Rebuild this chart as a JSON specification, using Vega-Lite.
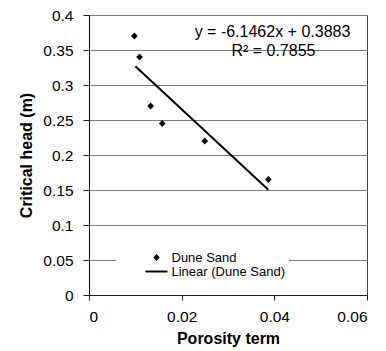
{
  "$schema": "https://vega.github.io/schema/vega-lite/v6.json",
  "width": 278,
  "height": 280,
  "autosize": {"type": "none"},
  "padding": {"left": 89, "top": 15, "right": 19, "bottom": 56},
  "background": "white",
  "config": {
    "font": "Liberation Sans",
    "view": {"stroke": "#444", "strokeWidth": 1},
    "axis": {
      "labelFont": "Liberation Sans",
      "labelFontSize": 15.5,
      "labelColor": "black",
      "titleFont": "Liberation Sans",
      "titleFontSize": 16,
      "titleFontWeight": "bold",
      "titleColor": "black",
      "tickColor": "#222",
      "domainColor": "#222"
    }
  },
  "datasets": {
    "main": [
      {"x": 0.0098, "y": 0.370, "series": "Dune Sand"},
      {"x": 0.0109, "y": 0.340, "series": "Dune Sand"},
      {"x": 0.0133, "y": 0.270, "series": "Dune Sand"},
      {"x": 0.0158, "y": 0.245, "series": "Dune Sand"},
      {"x": 0.0250, "y": 0.220, "series": "Dune Sand"},
      {"x": 0.0387, "y": 0.165, "series": "Dune Sand"},
      {"x": 0.0100, "y": 0.3268, "series": "Linear (Dune Sand)"},
      {"x": 0.0387, "y": 0.1504, "series": "Linear (Dune Sand)"}
    ],
    "notes": [
      {"label": "y = -6.1462x + 0.3883", "row": 1},
      {"label": "R² = 0.7855", "row": 2}
    ]
  },
  "layer": [
    {
      "data": {"name": "main"},
      "transform": [{"filter": "datum.series == 'Linear (Dune Sand)'"}],
      "mark": {"type": "line", "color": "black", "strokeWidth": 2},
      "encoding": {
        "x": {
          "field": "x", "type": "quantitative",
          "scale": {"domain": [0, 0.06], "nice": false, "zero": false},
          "axis": {"title": "Porosity term", "values": [0, 0.02, 0.04, 0.06], "format": ".2~f", "grid": false, "tickSize": 5, "labelPadding": 9, "titlePadding": 6}
        },
        "y": {
          "field": "y", "type": "quantitative",
          "scale": {"domain": [0, 0.4], "nice": false, "zero": false},
          "axis": {"title": "Critical head (m)", "values": [0, 0.05, 0.1, 0.15, 0.2, 0.25, 0.3, 0.35, 0.4], "format": ".2~f", "grid": true, "gridColor": "#7a7a7a", "gridWidth": 1, "tickSize": 6, "labelPadding": 10, "titlePadding": 8, "domainColor": "black"}
        }
      }
    },
    {
      "data": {"name": "main"},
      "transform": [{"filter": "datum.series == 'Dune Sand'"}],
      "mark": {"type": "point", "filled": true, "color": "black", "size": 121, "opacity": 1},
      "encoding": {
        "x": {
          "field": "x", "type": "quantitative",
          "scale": {"domain": [0, 0.06], "nice": false, "zero": false},
          "axis": {"title": "Porosity term", "values": [0, 0.02, 0.04, 0.06], "format": ".2~f", "grid": false, "tickSize": 5, "labelPadding": 9, "titlePadding": 6}
        },
        "y": {
          "field": "y", "type": "quantitative",
          "scale": {"domain": [0, 0.4], "nice": false, "zero": false},
          "axis": {"title": "Critical head (m)", "values": [0, 0.05, 0.1, 0.15, 0.2, 0.25, 0.3, 0.35, 0.4], "format": ".2~f", "grid": true, "gridColor": "#7a7a7a", "gridWidth": 1, "tickSize": 6, "labelPadding": 10, "titlePadding": 8, "domainColor": "black"}
        },
        "shape": {
          "field": "series", "type": "nominal",
          "scale": {
            "domain": ["Dune Sand", "Linear (Dune Sand)"],
            "range": ["M0,-0.65L0.6,0L0,0.65L-0.6,0Z", "M-2,-0.18H2V0.18H-2Z"]
          },
          "legend": {
            "title": null,
            "orient": "none",
            "legendX": 27,
            "legendY": 232,
            "fillColor": "white",
            "padding": 4,
            "symbolOffset": 30,
            "labelFont": "Liberation Sans",
            "labelFontSize": 13,
            "labelColor": "black",
            "labelOffset": 8.5,
            "rowPadding": -2,
            "symbolSize": 121,
            "encode": {
              "symbols": {
                "update": {
                  "fill": {"value": "black"},
                  "opacity": {"value": 1}
                }
              }
            }
          }
        }
      }
    },
    {
      "data": {"name": "notes"},
      "transform": [{"filter": "datum.row == 1"}],
      "mark": {"type": "text", "font": "Liberation Sans", "fontSize": 16, "align": "center", "baseline": "middle", "color": "black"},
      "encoding": {
        "text": {"field": "label", "type": "nominal"},
        "x": {
          "datum": 0.0396, "type": "quantitative",
          "scale": {"domain": [0, 0.06], "nice": false, "zero": false},
          "axis": {"title": "Porosity term", "values": [0, 0.02, 0.04, 0.06], "format": ".2~f", "grid": false, "tickSize": 5, "labelPadding": 9, "titlePadding": 6}
        },
        "y": {
          "datum": 0.3757, "type": "quantitative",
          "scale": {"domain": [0, 0.4], "nice": false, "zero": false},
          "axis": {"title": "Critical head (m)", "values": [0, 0.05, 0.1, 0.15, 0.2, 0.25, 0.3, 0.35, 0.4], "format": ".2~f", "grid": true, "gridColor": "#7a7a7a", "gridWidth": 1, "tickSize": 6, "labelPadding": 10, "titlePadding": 8, "domainColor": "black"}
        }
      }
    },
    {
      "data": {"name": "notes"},
      "transform": [{"filter": "datum.row == 2"}],
      "mark": {"type": "text", "font": "Liberation Sans", "fontSize": 16, "align": "center", "baseline": "middle", "color": "black"},
      "encoding": {
        "text": {"field": "label", "type": "nominal"},
        "x": {
          "datum": 0.0398, "type": "quantitative",
          "scale": {"domain": [0, 0.06], "nice": false, "zero": false},
          "axis": {"title": "Porosity term", "values": [0, 0.02, 0.04, 0.06], "format": ".2~f", "grid": false, "tickSize": 5, "labelPadding": 9, "titlePadding": 6}
        },
        "y": {
          "datum": 0.3486, "type": "quantitative",
          "scale": {"domain": [0, 0.4], "nice": false, "zero": false},
          "axis": {"title": "Critical head (m)", "values": [0, 0.05, 0.1, 0.15, 0.2, 0.25, 0.3, 0.35, 0.4], "format": ".2~f", "grid": true, "gridColor": "#7a7a7a", "gridWidth": 1, "tickSize": 6, "labelPadding": 10, "titlePadding": 8, "domainColor": "black"}
        }
      }
    }
  ]
}
